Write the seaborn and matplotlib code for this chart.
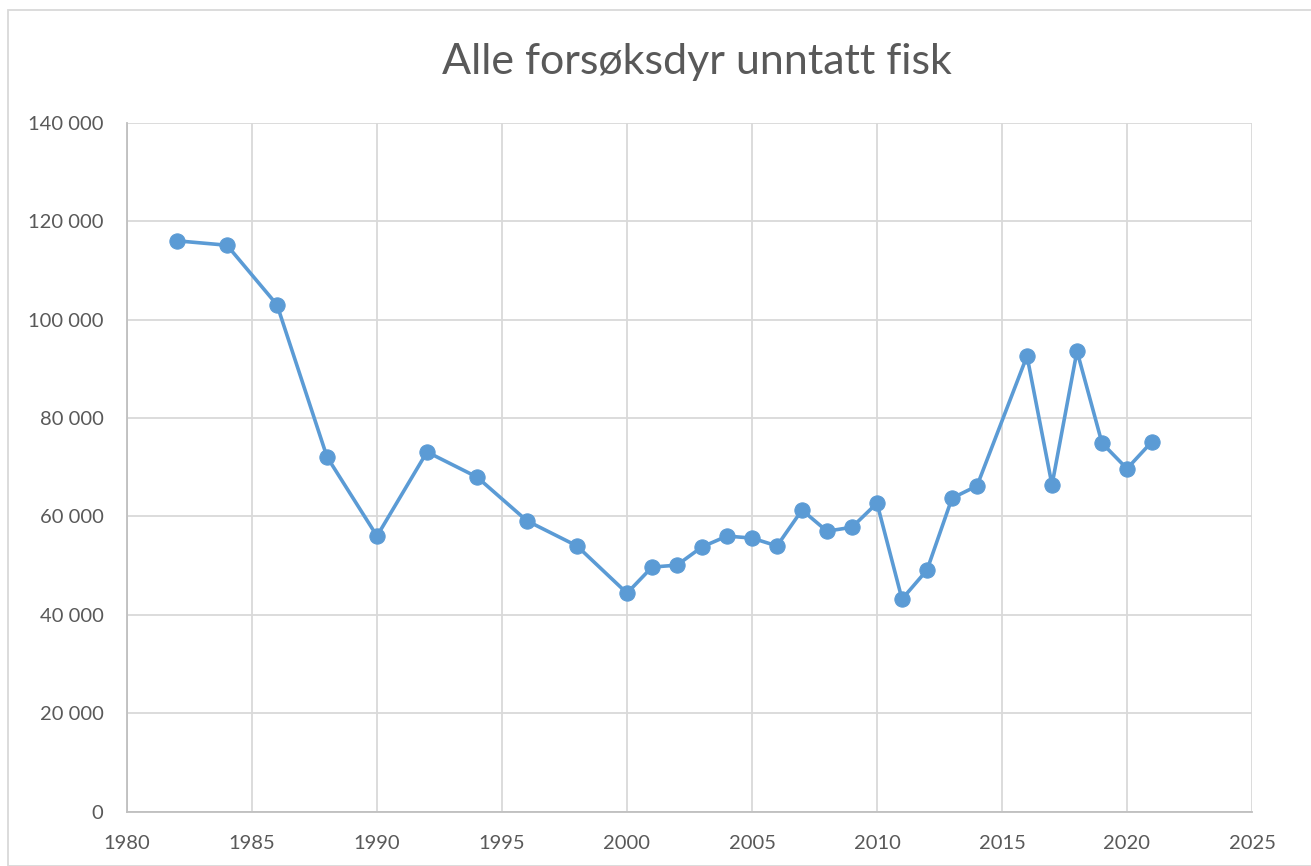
"""
Alle forsøksdyr unntatt fisk - linjediagram
"""
import matplotlib
matplotlib.use("Agg")
import matplotlib.pyplot as plt
import pandas as pd
import seaborn as sns
from matplotlib.patches import Rectangle
from matplotlib.ticker import FuncFormatter, MultipleLocator

# Data lest av figuren
years = [1982, 1984, 1986, 1988, 1990, 1992, 1994, 1996, 1998, 2000,
         2001, 2002, 2003, 2004, 2005, 2006, 2007, 2008, 2009, 2010,
         2011, 2012, 2013, 2014, 2016, 2017, 2018, 2019, 2020, 2021]
animals = [116000, 115100, 103000, 72100, 56000, 73100, 68000, 59100, 54000, 44400,
           49700, 50100, 53800, 56000, 55600, 54000, 61300, 57000, 57800, 62700,
           43200, 49100, 63700, 66200, 92600, 66400, 93600, 74900, 69700, 75200]
title = "Alle forsøksdyr unntatt fisk"

df = pd.DataFrame({"year": years, "animals": animals})

sns.set_style("white")
plt.rcParams['font.family'] = ['Lato', 'DejaVu Sans']

line_color = "#5B9BD5"
text_color = "#595959"
grid_color = "#D9D9D9"

fig = plt.figure(figsize=(13.11, 8.66), dpi=100)
ax = fig.add_axes([127 / 1311, (866 - 811.7) / 866,
                   (1252 - 127) / 1311, (811.7 - 122.7) / 866])

sns.lineplot(data=df, x="year", y="animals", ax=ax, color=line_color,
             linewidth=2.6, marker="o", markersize=11,
             markeredgecolor=line_color, zorder=3)

ax.set_xlim(1980, 2025)
ax.set_ylim(0, 140000)
ax.xaxis.set_major_locator(MultipleLocator(5))
ax.yaxis.set_major_locator(MultipleLocator(20000))
ax.yaxis.set_major_formatter(FuncFormatter(lambda v, p: f"{int(v):,}".replace(",", " ")))

ax.grid(True, color=grid_color, linewidth=1.3)
ax.set_axisbelow(True)
for side in ["top", "right"]:
    ax.spines[side].set_visible(False)
for side in ["left", "bottom"]:
    ax.spines[side].set_color("#BFBFBF")
    ax.spines[side].set_linewidth(1.3)

ax.tick_params(axis="both", length=0, labelsize=14.5, colors=text_color)
ax.tick_params(axis="y", pad=17)
ax.tick_params(axis="x", pad=17)
ax.set_xlabel("")
ax.set_ylabel("")

fig.text(697 / 1311, (866 - 62) / 866, title, ha="center", va="center",
         fontsize=31, color=text_color)

# ramme rundt diagrammet
fig.patches.append(Rectangle((8 / 1311, 0), 1.0, (866 - 10) / 866,
                             transform=fig.transFigure, fill=False,
                             edgecolor="#D9D9D9", linewidth=1.3))

fig.savefig("out.png", dpi=100)
plt.close(fig)
